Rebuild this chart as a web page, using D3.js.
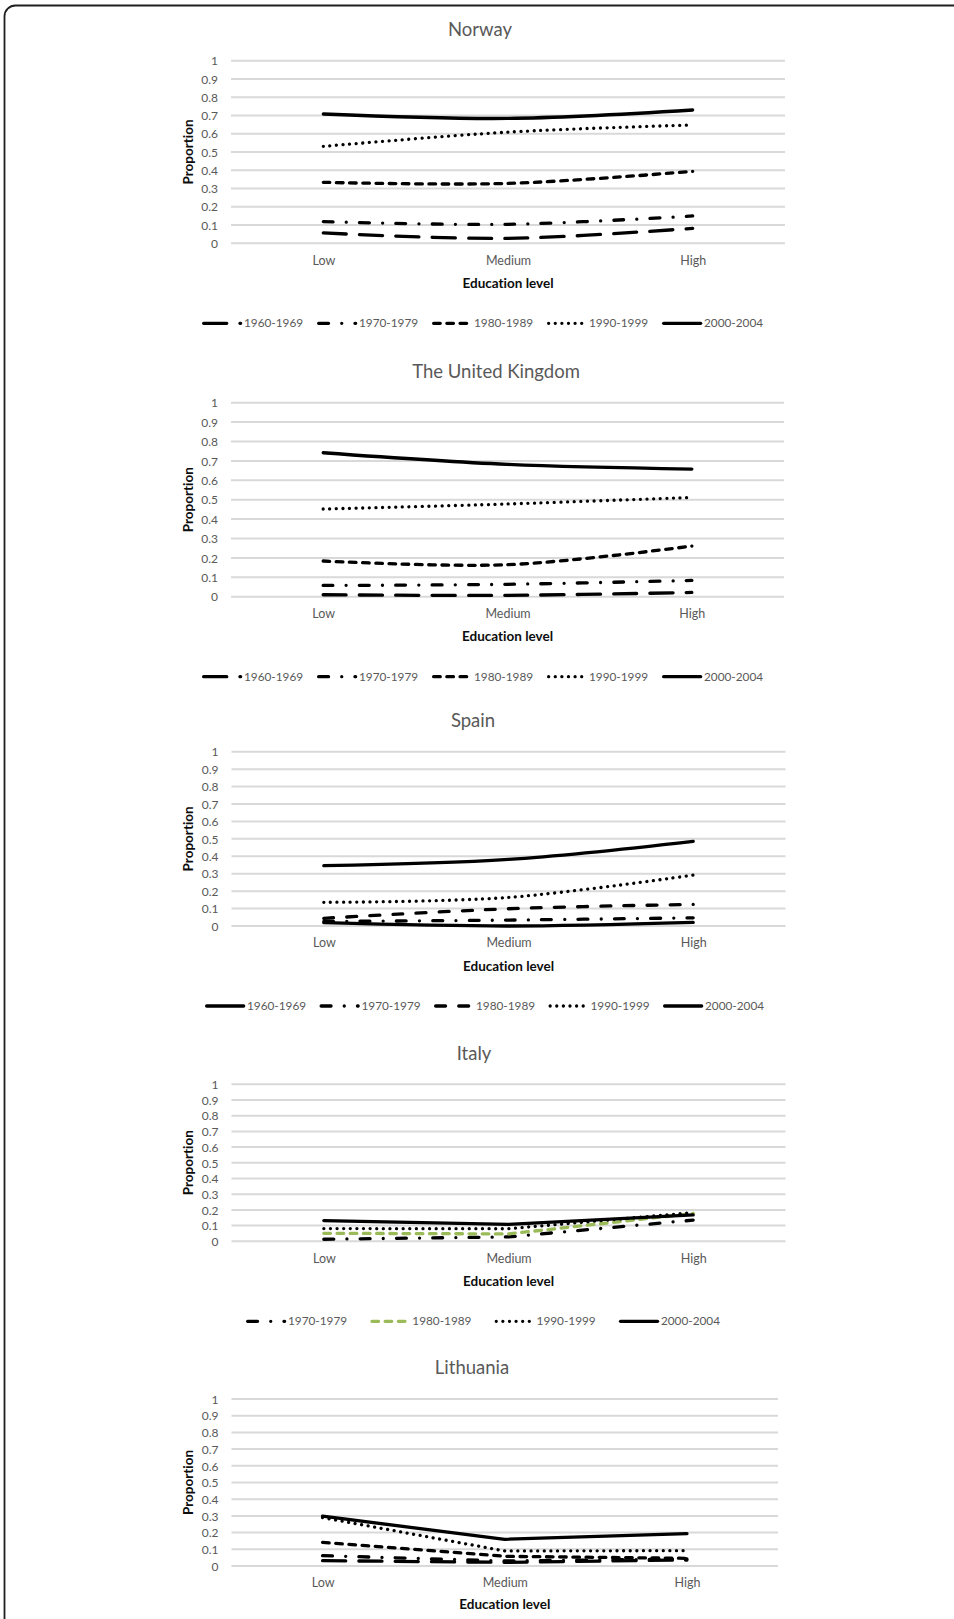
<!DOCTYPE html>
<html>
<head>
<meta charset="utf-8">
<script src="https://cdn.jsdelivr.net/npm/d3@7"></script>
<style>
  html, body { margin: 0; padding: 0; background: #fff; }
  svg { display: block; }
  text {
    font-family: Lato, "Open Sans", "Noto Sans", sans-serif;
    font-variant-ligatures: none;
    font-feature-settings: "liga" 0, "clig" 0, "dlig" 0;
  }
</style>
</head>
<body>
<svg id="chart" width="954" height="1619"></svg>
<script>
// ---- data -------------------------------------------------------------
const educationLevels = ["Low", "Medium", "High"];
const cohorts = ["1960-1969", "1970-1979", "1980-1989", "1990-1999", "2000-2004"];
const countries = ["Norway", "The United Kingdom", "Spain", "Italy", "Lithuania"];
const yTickValues = [0, 0.1, 0.2, 0.3, 0.4, 0.5, 0.6, 0.7, 0.8, 0.9, 1];
const yTickLabels = ["0", "0.1", "0.2", "0.3", "0.4", "0.5", "0.6", "0.7", "0.8", "0.9", "1"];

// proportion per cohort (rows, same order as cohorts) by education level (columns)
const norwayValues = [
  [0.057, 0.027, 0.082],
  [0.119, 0.104, 0.150],
  [0.334, 0.328, 0.394],
  [0.531, 0.609, 0.648],
  [0.708, 0.684, 0.730]
];
const ukValues = [
  [0.010, 0.007, 0.022],
  [0.058, 0.064, 0.084],
  [0.184, 0.165, 0.261],
  [0.452, 0.478, 0.512],
  [0.742, 0.682, 0.658]
];
const spainValues = [
  [0.019, 0.000, 0.021],
  [0.026, 0.034, 0.047],
  [0.044, 0.099, 0.124],
  [0.136, 0.164, 0.292],
  [0.346, 0.382, 0.486]
];
const italyValues = [
  null,
  [0.013, 0.028, 0.135],
  [0.051, 0.047, 0.177],
  [0.081, 0.080, 0.183],
  [0.132, 0.108, 0.168]
];
const lithuaniaValues = [
  [0.032, 0.022, 0.036],
  [0.062, 0.030, 0.042],
  [0.142, 0.058, 0.046],
  [0.290, 0.090, 0.092],
  [0.298, 0.160, 0.194]
];

// ---- styles -----------------------------------------------------------
const LINE_W = 3.3;
const dashPatterns = {
  solid: null,
  lgDash: "23.1 13.2",
  dashDot: "9.9 13.2 0.01 13.2",
  sysDash: "6.6 6.6",
  dash: "9.9 13.2",
  sysDot: "0.01 6.6"
};
const norwayStyles = ["lgDash", "dashDot", "sysDash", "sysDot", "solid"];
const spainStyles = ["solid", "dashDot", "dash", "sysDot", "solid"];
const italyStyles = [null, "dashDot", "sysDash", "sysDot", "solid"];
const blackColors = ["#000", "#000", "#000", "#000", "#000"];
const italyColors = ["#000", "#000", "#9bbb59", "#000", "#000"];

const GREY = "#595959";

// ---- layout of the five stacked panels ----------------------------------
const panels = [
  { name: countries[0], values: norwayValues, styles: norwayStyles, colors: blackColors,
    top: 60.7, bottom: 243.3, left: 231, right: 785, titleX: 480, smooth: true,
    legend: { x: 202, step: 115 } },
  { name: countries[1], values: ukValues, styles: norwayStyles, colors: blackColors,
    top: 402.7, bottom: 596.7, left: 231, right: 784, titleX: 496, smooth: true,
    legend: { x: 202, step: 115 } },
  { name: countries[2], values: spainValues, styles: spainStyles, colors: blackColors,
    top: 751.7, bottom: 926, left: 231.5, right: 785.5, titleX: 473, smooth: true,
    legend: { x: 205, step: 114.5 } },
  { name: countries[3], values: italyValues, styles: italyStyles, colors: italyColors,
    top: 1084.3, bottom: 1241.3, left: 231.5, right: 785.5, titleX: 474, smooth: false,
    legend: { x: 246, step: 124.3 } },
  { name: countries[4], values: lithuaniaValues, styles: norwayStyles, colors: blackColors,
    top: 1399, bottom: 1566, left: 231.5, right: 778, titleX: 472, smooth: false,
    legend: null }
];

const svg = d3.select("#chart");

// outer rounded frame (runs off the right and bottom edges)
svg.append("rect")
  .attr("x", 4.5).attr("y", 5.5)
  .attr("width", 1100).attr("height", 1800)
  .attr("rx", 11).attr("ry", 11)
  .attr("fill", "none")
  .attr("stroke", "#1f1f1f")
  .attr("stroke-width", 1.8);

panels.forEach(p => {
  const g = svg.append("g");

  const x = d3.scalePoint().domain(educationLevels).range([p.left, p.right]).padding(0.5);
  const y = d3.scaleLinear().domain([0, 1]).range([p.bottom, p.top]);

  // horizontal gridlines
  g.append("g").selectAll("line")
    .data(yTickValues)
    .join("line")
    .attr("x1", p.left).attr("x2", p.right)
    .attr("y1", d => y(d)).attr("y2", d => y(d))
    .attr("stroke", "#d9d9d9")
    .attr("stroke-width", 2);

  // value axis labels
  const yAxis = g.append("g")
    .attr("transform", `translate(${p.left},0)`)
    .call(d3.axisLeft(y).tickValues(yTickValues)
      .tickFormat((d, i) => yTickLabels[i]).tickSize(0).tickPadding(13));
  yAxis.select(".domain").remove();
  yAxis.selectAll("text")
    .attr("fill", GREY).attr("font-size", 12)
    .attr("font-family", "Lato, 'Open Sans', sans-serif")
    .attr("dy", "0.35em");

  // category axis labels
  const xAxis = g.append("g")
    .attr("transform", `translate(0,${p.bottom})`)
    .call(d3.axisBottom(x).tickSize(0).tickPadding(12.5));
  xAxis.select(".domain").remove();
  xAxis.selectAll("text")
    .attr("fill", GREY).attr("font-size", 12.5)
    .attr("font-family", "Lato, 'Open Sans', sans-serif");

  // series lines
  const line = d3.line()
    .x((d, i) => x(educationLevels[i]))
    .y(d => y(d))
    .curve(p.smooth ? d3.curveCardinal.tension(0) : d3.curveLinear);

  p.values.forEach((vals, k) => {
    if (!vals) return;
    g.append("path")
      .attr("d", line(vals))
      .attr("fill", "none")
      .attr("stroke", p.colors[k])
      .attr("stroke-width", LINE_W)
      .attr("stroke-linecap", "round")
      .attr("stroke-linejoin", "round")
      .attr("stroke-dasharray", dashPatterns[p.styles[k]]);
  });

  // chart title
  g.append("text")
    .attr("x", p.titleX).attr("y", p.top - 31).attr("dy", "0.35em")
    .attr("text-anchor", "middle")
    .attr("fill", GREY).attr("font-size", 18.5)
    .text(p.name);

  // axis titles
  g.append("text")
    .attr("x", (p.left + p.right) / 2)
    .attr("y", p.legend ? p.bottom + 40 : p.bottom + 38).attr("dy", "0.35em")
    .attr("text-anchor", "middle")
    .attr("font-weight", 700).attr("font-size", 13.5).attr("fill", "#0d0d0d")
    .text("Education level");

  g.append("text")
    .attr("transform", `translate(188,${(p.top + p.bottom) / 2}) rotate(-90)`)
    .attr("dy", "0.35em")
    .attr("text-anchor", "middle")
    .attr("font-weight", 700).attr("font-size", 13.5).attr("fill", "#0d0d0d")
    .text("Proportion");

  // legend
  if (p.legend) {
    const ly = p.bottom + 80;
    const items = cohorts.map((c, k) => ({ c, k })).filter(o => p.values[o.k]);
    items.forEach((o, j) => {
      const xs = p.legend.x + j * p.legend.step;
      g.append("path")
        .attr("d", d3.line()([[xs + 1.65, ly], [xs + 38.65, ly]]))
        .attr("fill", "none")
        .attr("stroke", p.colors[o.k])
        .attr("stroke-width", LINE_W)
        .attr("stroke-linecap", "round")
        .attr("stroke-dasharray", dashPatterns[p.styles[o.k]]);
      g.append("text")
        .attr("x", xs + 42).attr("y", ly).attr("dy", "0.35em")
        .attr("fill", GREY).attr("font-size", 11.8)
        .text(o.c);
    });
  }
});
</script>
</body>
</html>
